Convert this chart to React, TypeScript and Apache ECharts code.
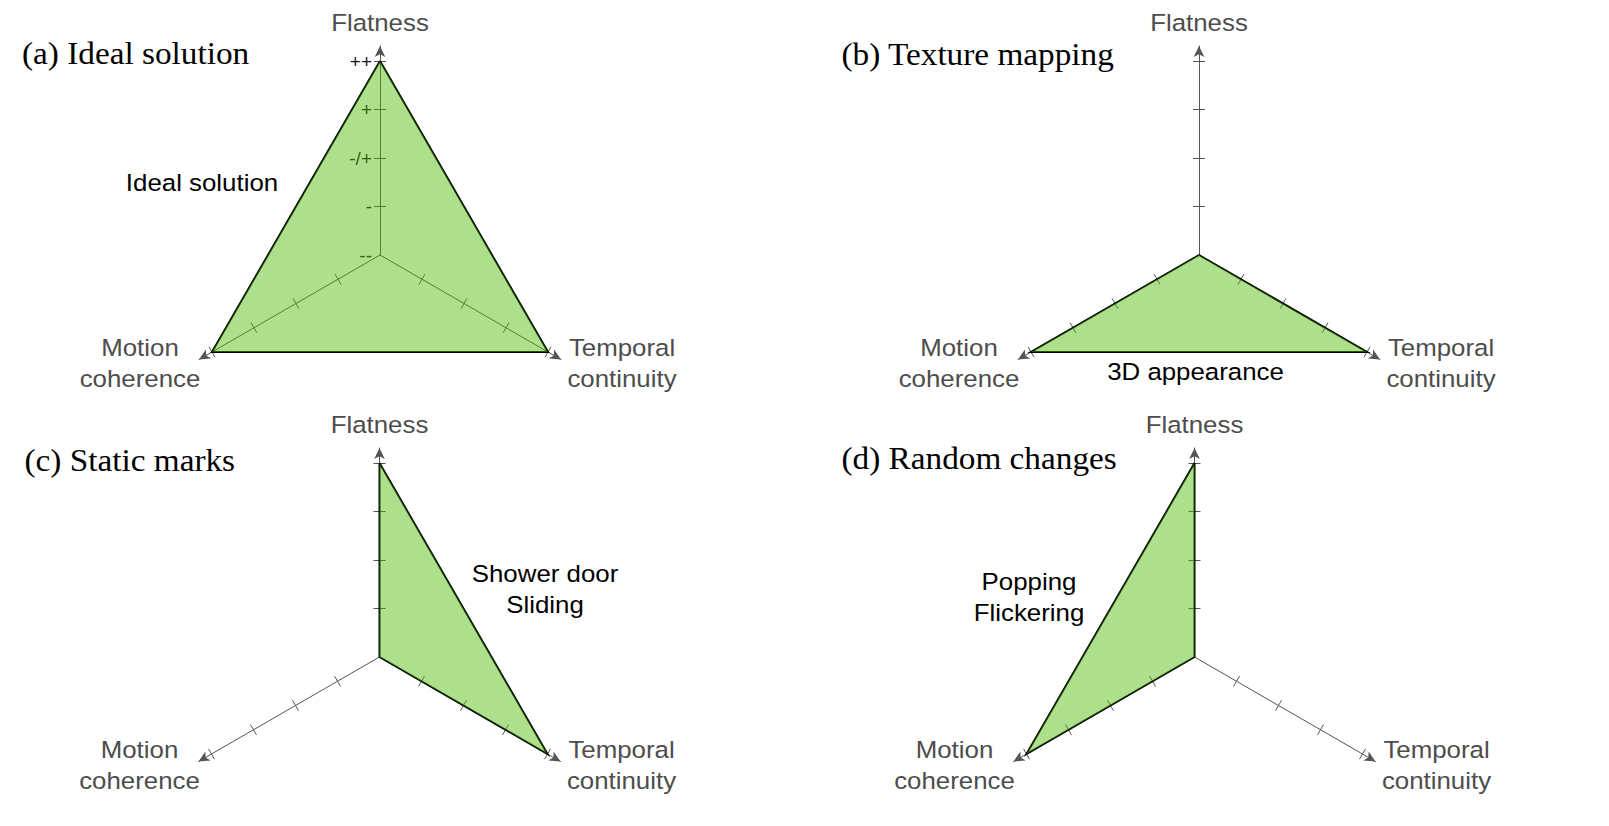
import React, { useEffect, useRef } from 'react';
import * as echarts from 'echarts';

// ---- data ----
// radar indicators run counter-clockwise from the top
const indicatorNames = ['Flatness', 'Motion coherence', 'Temporal continuity'];
const levelLabels = ['--', '-', '-/+', '+', '++'];
const levelValues = [0, 1, 2, 3, 4];
const tickValues = [1, 2, 3, 4];
const levelMax = 4;
const panelTitles = ['(a) Ideal solution', '(b) Texture mapping', '(c) Static marks', '(d) Random changes'];
const panelNotes = ['Ideal solution', '3D appearance', 'Shower door\nSliding', 'Popping\nFlickering'];
// values ordered as indicatorNames: [Flatness, Motion coherence, Temporal continuity]
const idealValues = [4, 4, 4];
const textureValues = [0, 4, 4];
const staticValues = [4, 0, 4];
const randomValues = [4, 4, 0];
const panelValues = [idealValues, textureValues, staticValues, randomValues];

// ---- layout ----
const W = 1609;
const H = 826;
const centers = [[380, 255], [1199, 255], [379.5, 657], [1194.5, 657]];
const R = 194;
const RLINE = 209;
const titlePos = [[22, 53], [841.5, 54], [24.5, 460], [841.5, 458]];
const notePos = [[202, 182.7], [1195.5, 371.5], [545, 589.5], [1029, 597]];
const nameOffsets = [[0, -232], [-240, 108], [242, 108]];

const AXIS_COLOR = '#555555';
const FILL = 'rgba(75,185,0,0.45)';
const TICK_LEN = 6;

function buildOption() {
  const radars: any[] = [];
  const series: any[] = [];
  const graphics: any[] = [];

  panelValues.forEach((vals, p) => {
    const center = centers[p];
    const base = {
      center: center,
      startAngle: 90,
      shape: 'polygon',
      splitNumber: 4,
      splitLine: { show: false },
      splitArea: { show: false },
      axisName: { show: false },
    };
    // axis lines with arrows
    radars.push({
      ...base,
      radius: RLINE,
      indicator: indicatorNames.map((n) => ({ name: n, min: 0, max: levelMax })),
      axisLine: {
        show: true,
        symbol: ['none', 'arrow'],
        symbolSize: [8, 11],
        lineStyle: { color: AXIS_COLOR, width: 1 },
      },
      axisTick: { show: false },
      axisLabel: { show: false },
    });
    // ticks on one side + level labels
    radars.push({
      ...base,
      radius: R,
      indicator: indicatorNames.map((n, i) => {
        const ind: any = { name: n, min: 0, max: levelMax };
        if (p === 0 && i === 0) {
          ind.axisLabel = {
            show: true,
            customValues: levelValues,
            formatter: (v: number) => levelLabels[Math.round(v)] ?? '',
            color: '#1a1a1a',
            fontSize: 19,
            fontFamily: 'Liberation Sans',
            margin: 8,
          };
        }
        return ind;
      }),
      axisLine: { show: false },
      axisTick: {
        show: true,
        length: TICK_LEN,
        customValues: tickValues,
        lineStyle: { color: AXIS_COLOR, width: 1 },
      },
      axisLabel: { show: false },
    });
    // ticks on the other side
    radars.push({
      ...base,
      radius: R,
      indicator: indicatorNames.map((n) => ({ name: n, min: 0, max: levelMax })),
      axisLine: { show: false },
      axisTick: {
        show: true,
        length: -TICK_LEN,
        customValues: tickValues,
        lineStyle: { color: AXIS_COLOR, width: 1 },
      },
      axisLabel: { show: false },
    });

    series.push({
      type: 'radar',
      radarIndex: p * 3 + 1,
      symbol: 'none',
      silent: true,
      z: 3,
      lineStyle: { color: '#000000', width: 2, join: 'miter', miterLimit: 10 },
      areaStyle: { color: FILL, opacity: 1 },
      data: [{ value: vals, name: panelTitles[p] }],
    });

    // panel title
    graphics.push({
      type: 'text',
      x: titlePos[p][0],
      y: titlePos[p][1],
      scaleX: 1.04,
      silent: true,
      style: {
        text: panelTitles[p],
        fill: '#000000',
        font: '32px "Liberation Serif"',
        textAlign: 'left',
        textVerticalAlign: 'middle',
      },
    });
    // annotation
    graphics.push({
      type: 'text',
      x: notePos[p][0],
      y: notePos[p][1],
      scaleX: 1.1,
      silent: true,
      z: 10,
      style: {
        text: panelNotes[p],
        fill: '#000000',
        font: '23.5px "Liberation Sans"',
        lineHeight: 31,
        textAlign: 'center',
        textVerticalAlign: 'middle',
      },
    });
    // axis names
    indicatorNames.forEach((n, i) => {
      graphics.push({
        type: 'text',
        x: center[0] + nameOffsets[i][0],
        y: center[1] + nameOffsets[i][1],
        scaleX: 1.1,
        silent: true,
        style: {
          text: n.replace(' ', '\n'),
          fill: '#4d4d4d',
          font: '23.5px "Liberation Sans"',
          lineHeight: 31,
          textAlign: 'center',
          textVerticalAlign: 'middle',
        },
      });
    });
  });

  return {
    animation: false,
    backgroundColor: '#ffffff',
    radar: radars,
    series,
    graphic: { elements: graphics },
  };
}

export default function App() {
  const ref = useRef<HTMLDivElement>(null);
  useEffect(() => {
    if (!ref.current) return;
    const chart = echarts.init(ref.current, null, { renderer: 'svg' });
    chart.setOption(buildOption() as any);
    return () => chart.dispose();
  }, []);
  return (
    <div
      ref={ref}
      style={{ position: 'fixed', left: 0, top: 0, width: W, height: H, background: '#fff' }}
    />
  );
}
